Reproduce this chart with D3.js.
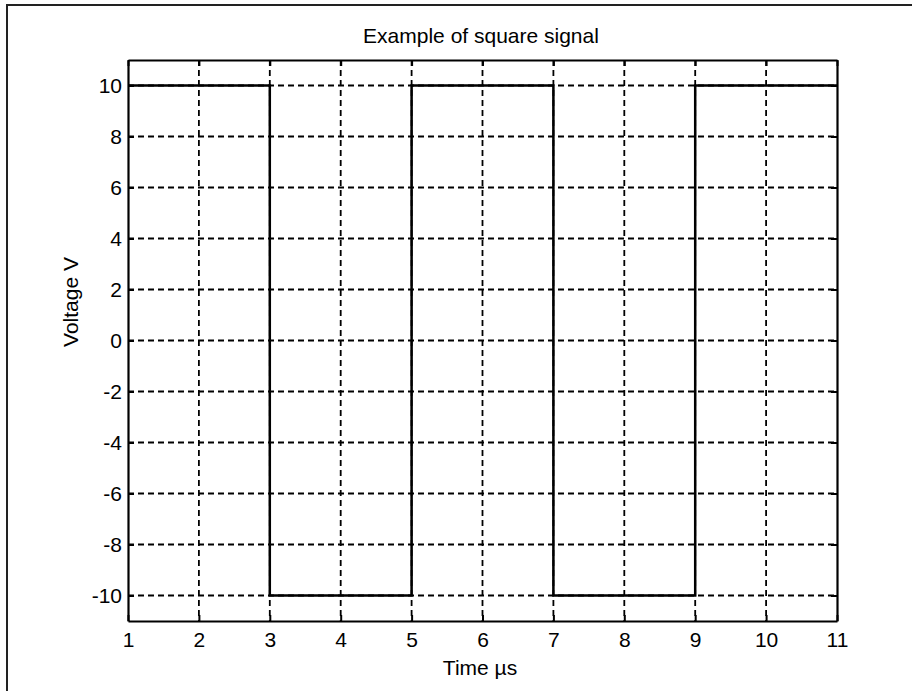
<!DOCTYPE html>
<html>
<head>
<meta charset="utf-8">
<script src="https://cdn.jsdelivr.net/npm/d3@7"></script>
<style>
  body { margin: 0; background: #fff; }
  text { font-family: "Liberation Sans", Arial, sans-serif; fill: #000; }
</style>
</head>
<body>
<div id="chart"></div>
<script>
// Square signal: breakpoints (time in µs) and level held from each one
const times = [1, 3, 5, 7, 9, 11];
const levels = [10, -10, 10, -10, 10, 10];
const xTicks = [1, 2, 3, 4, 5, 6, 7, 8, 9, 10, 11];
const yTicks = [-10, -8, -6, -4, -2, 0, 2, 4, 6, 8, 10];

const width = 912, height = 691;
const margin = { top: 60, right: 75, bottom: 70, left: 128 };
const fontSize = "21px";

const svg = d3.select("#chart")
  .append("svg")
  .attr("width", width)
  .attr("height", height);

// Outer window frame (left and top edges visible)
svg.append("path")
  .attr("d", `M7,${height} V5 H${width}`)
  .attr("fill", "none")
  .attr("stroke", "#222")
  .attr("stroke-width", 2);

const x = d3.scaleLinear().domain([1, 11]).range([margin.left, width - margin.right]);
const y = d3.scaleLinear().domain([-11, 11]).range([height - margin.bottom, margin.top]);

const g = svg.append("g");

// Grid lines
g.selectAll(".vgrid")
  .data(xTicks.slice(1, -1))
  .join("line")
  .attr("x1", d => x(d)).attr("x2", d => x(d))
  .attr("y1", y(11)).attr("y2", y(-11))
  .attr("stroke", "#000")
  .attr("stroke-width", 1.8)
  .attr("stroke-dasharray", "6,4");

g.selectAll(".hgrid")
  .data(yTicks)
  .join("line")
  .attr("x1", x(1)).attr("x2", x(11))
  .attr("y1", d => y(d)).attr("y2", d => y(d))
  .attr("stroke", "#000")
  .attr("stroke-width", 1.8)
  .attr("stroke-dasharray", "6,4");

// Signal
const line = d3.line()
  .x(d => x(d[0]))
  .y(d => y(d[1]))
  .curve(d3.curveStepAfter);

g.append("path")
  .datum(times.map((t, i) => [t, levels[i]]))
  .attr("d", line)
  .attr("fill", "none")
  .attr("stroke", "#000")
  .attr("stroke-width", 2.5);

// Axes (MATLAB-style inward ticks, box on), plain hyphen for negatives
const fmt = d => String(d);
const xAxis = d3.axisBottom(x).tickValues(xTicks).tickFormat(fmt).tickSizeInner(-6).tickSizeOuter(0).tickPadding(11);
const yAxis = d3.axisLeft(y).tickValues(yTicks).tickFormat(fmt).tickSizeInner(-6).tickSizeOuter(0).tickPadding(6);

svg.append("g")
  .attr("transform", `translate(0,${y(-11)})`)
  .call(xAxis);
svg.append("g")
  .attr("transform", `translate(${x(1)},0)`)
  .call(yAxis);

svg.append("g")
  .attr("transform", `translate(0,${y(11)})`)
  .call(d3.axisTop(x).tickValues(xTicks).tickFormat("").tickSizeInner(-6).tickSizeOuter(0));
svg.append("g")
  .attr("transform", `translate(${x(11)},0)`)
  .call(d3.axisRight(y).tickValues(yTicks).tickFormat("").tickSizeInner(-6).tickSizeOuter(0));

svg.selectAll(".domain").attr("stroke", "#000").attr("stroke-width", 2.2);
svg.selectAll(".tick line").attr("stroke", "#000").attr("stroke-width", 2);
svg.selectAll(".tick text")
  .style("font-size", fontSize)
  .style("font-family", "'Liberation Sans', Arial, sans-serif");

// Title and axis labels
svg.append("text")
  .attr("x", 481)
  .attr("y", 43)
  .attr("text-anchor", "middle")
  .style("font-size", fontSize)
  .text("Example of square signal");

svg.append("text")
  .attr("x", 480)
  .attr("y", 675)
  .attr("text-anchor", "middle")
  .style("font-size", fontSize)
  .text("Time µs");

svg.append("text")
  .attr("transform", "translate(78,302) rotate(-90)")
  .attr("text-anchor", "middle")
  .style("font-size", fontSize)
  .text("Voltage V");
</script>
</body>
</html>
